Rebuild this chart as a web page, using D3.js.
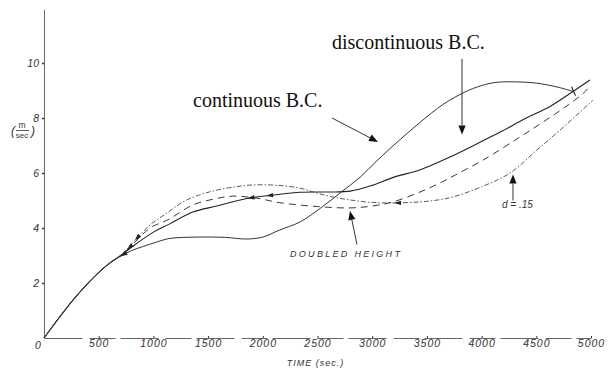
<!DOCTYPE html>
<html>
<head>
<meta charset="utf-8">
<script src="https://cdn.jsdelivr.net/npm/d3@7"></script>
<style>
  body { margin: 0; background: #fff; }
  svg { display: block; }
  .tick text { font-family: "Liberation Sans", Arial, sans-serif; font-style: italic; fill: #333; }
</style>
</head>
<body>
<svg id="chart" width="613" height="370"></svg>
<script>
// Axis ticks
const xTicks = [0, 500, 1000, 1500, 2000, 2500, 3000, 3500, 4000, 4500, 5000];
const yTicks = [2, 4, 6, 8, 10];

// Velocity (m/sec) against time (sec) for each run
const contT = [0, 265, 494, 603, 695, 800, 900, 1030, 1150, 1400, 1650, 1850, 2000, 2150, 2340, 2540, 2705, 2890, 3044, 3250, 3440, 3650, 3850, 4000, 4140, 4350, 4500, 4700, 4840];
const contV = [0, 1.38, 2.36, 2.73, 2.96, 3.18, 3.32, 3.49, 3.62, 3.67, 3.66, 3.6, 3.67, 3.92, 4.22, 4.76, 5.27, 5.85, 6.45, 7.2, 7.85, 8.5, 8.95, 9.18, 9.3, 9.31, 9.27, 9.12, 8.96];

const discT = [0, 265, 494, 603, 695, 800, 1000, 1150, 1360, 1580, 1880, 2100, 2340, 2600, 2800, 3000, 3200, 3440, 3710, 3950, 4170, 4400, 4625, 4810, 4990];
const discV = [0, 1.38, 2.36, 2.73, 2.98, 3.3, 3.85, 4.15, 4.58, 4.8, 5.09, 5.2, 5.3, 5.31, 5.34, 5.55, 5.85, 6.12, 6.58, 7.05, 7.49, 7.98, 8.42, 8.9, 9.38];

const dblT = [0, 265, 494, 603, 695, 800, 969, 1133, 1362, 1550, 1730, 1950, 2157, 2500, 2797, 3000, 3190, 3437, 3620, 3760, 4013, 4351, 4625, 4800, 4930, 5000];
const dblV = [0, 1.38, 2.36, 2.73, 2.98, 3.36, 4.0, 4.3, 4.84, 5.05, 5.16, 5.08, 4.92, 4.78, 4.73, 4.8, 4.95, 5.31, 5.64, 5.93, 6.47, 7.31, 8.02, 8.5, 8.9, 9.2];

const alphaT = [0, 265, 494, 603, 695, 800, 969, 1133, 1270, 1420, 1581, 1750, 1883, 2100, 2340, 2495, 2650, 2797, 3000, 3190, 3437, 3600, 3740, 4000, 4260, 4500, 4717, 5018];
const alphaV = [0, 1.38, 2.36, 2.73, 2.99, 3.42, 4.11, 4.57, 4.95, 5.2, 5.38, 5.5, 5.56, 5.56, 5.45, 5.27, 5.12, 5.02, 4.93, 4.91, 4.95, 5.02, 5.13, 5.5, 6.0, 6.82, 7.56, 8.65];

const svg = d3.select("#chart");
const x = d3.scaleLinear().domain([0, 5000]).range([44, 591]);
const y = d3.scaleLinear().domain([0, 11.95]).range([338, 9.4]);

// ---- axes ----
const yAxis = svg.append("g")
  .attr("transform", `translate(${x(0)},0)`)
  .call(d3.axisLeft(y).tickValues(yTicks).tickSize(2).tickSizeOuter(0).tickPadding(3).tickFormat(d3.format("d")));
yAxis.select(".domain").attr("stroke", "#666").attr("stroke-width", 1);
yAxis.selectAll(".tick line").attr("stroke", "#333").attr("stroke-width", 1.4);
yAxis.selectAll(".tick text").attr("font-size", 10.5);

const xAxis = svg.append("g")
  .attr("transform", `translate(0,${y(0)})`)
  .call(d3.axisBottom(x).tickValues(xTicks).tickSizeInner(-2).tickSizeOuter(0).tickPadding(2).tickFormat(d3.format("d")));
xAxis.select(".domain").attr("stroke", "#666").attr("stroke-width", 1).attr("stroke-dasharray", "38,7,26,5");
xAxis.selectAll(".tick line").attr("stroke", "#333");
xAxis.selectAll(".tick text").attr("font-size", 10.5).attr("letter-spacing", 1);
xAxis.selectAll(".tick").filter(d => d === 0).select("text").attr("dx", -6).attr("dy", "0.9em");
xAxis.selectAll(".tick").filter(d => d === 0).select("line").remove();

// axis titles
svg.append("text")
  .attr("x", (x(0) + x(5000)) / 2 - 2).attr("y", 366)
  .attr("text-anchor", "middle")
  .attr("font-family", "Liberation Sans, Arial, sans-serif")
  .attr("font-style", "italic").attr("font-size", 9).attr("letter-spacing", 1)
  .attr("fill", "#333")
  .text("TIME (sec.)");

const unit = svg.append("g").attr("font-family", "Liberation Sans, Arial, sans-serif").attr("fill", "#333");
unit.append("text").attr("x", 11).attr("y", 135).attr("font-size", 12).attr("font-style", "italic").text("(");
unit.append("text").attr("x", 22).attr("y", 128).attr("font-size", 8.5).attr("text-anchor", "middle").text("m");
unit.append("line").attr("x1", 16).attr("x2", 29).attr("y1", 130.5).attr("y2", 130.5).attr("stroke", "#333").attr("stroke-width", 0.8);
unit.append("text").attr("x", 22).attr("y", 138).attr("font-size", 8).attr("text-anchor", "middle").text("sec");
unit.append("text").attr("x", 31).attr("y", 135).attr("font-size", 12).attr("font-style", "italic").text(")");

// ---- curves ----
const line = d3.line().x(d => x(d[0])).y(d => y(d[1])).curve(d3.curveCatmullRom.alpha(0.5));
const zip = (ts, vs) => ts.map((t, i) => [t, vs[i]]);

const series = [
  { name: "continuous", t: contT, v: contV, color: "#333", width: 1, dash: null },
  { name: "discontinuous", t: discT, v: discV, color: "#222", width: 1.1, dash: null },
  { name: "doubled", t: dblT, v: dblV, color: "#3a3a3a", width: 1, dash: "7,5" },
  { name: "alpha", t: alphaT, v: alphaV, color: "#4a4a4a", width: 0.9, dash: "5,2,1.5,2" }
];

const paths = {};
series.forEach(s => {
  paths[s.name] = svg.append("path")
    .datum(zip(s.t, s.v))
    .attr("fill", "none")
    .attr("stroke", s.color)
    .attr("stroke-width", s.width)
    .attr("stroke-dasharray", s.dash)
    .attr("d", line)
    .node();
});

// small direction arrowheads drawn on the curves, pointing back toward earlier time
function pointAtX(pathNode, px) {
  let lo = 0, hi = pathNode.getTotalLength();
  for (let k = 0; k < 40; k++) {
    const mid = (lo + hi) / 2;
    if (pathNode.getPointAtLength(mid).x < px) lo = mid; else hi = mid;
  }
  return lo;
}
function curveHead(name, t) {
  const node = paths[name];
  const L = pointAtX(node, x(t));
  const p = node.getPointAtLength(L);
  const q = node.getPointAtLength(L + 6);
  const ang = Math.atan2(p.y - q.y, p.x - q.x);
  const len = 7, half = 2.2;
  const tip = [p.x, p.y];
  const b1 = [p.x - len * Math.cos(ang) + half * Math.sin(ang), p.y - len * Math.sin(ang) - half * Math.cos(ang)];
  const b2 = [p.x - len * Math.cos(ang) - half * Math.sin(ang), p.y - len * Math.sin(ang) + half * Math.cos(ang)];
  svg.append("path").attr("d", `M${tip}L${b1}L${b2}Z`).attr("fill", "#222");
}
curveHead("continuous", 700);
curveHead("doubled", 760);
curveHead("alpha", 830);
curveHead("discontinuous", 1860);
curveHead("discontinuous", 2030);
curveHead("alpha", 3200);

// end tick on the continuous curve
(function () {
  const node = paths.continuous;
  const p = node.getPointAtLength(node.getTotalLength());
  svg.append("line").attr("x1", p.x - 2).attr("y1", p.y - 5).attr("x2", p.x + 2).attr("y2", p.y + 4)
    .attr("stroke", "#222").attr("stroke-width", 1.2);
})();

// ---- annotations ----
function arrow(t0, v0, t1, v1) {
  const x0 = x(t0), y0 = y(v0), x1 = x(t1), y1 = y(v1);
  const ang = Math.atan2(y1 - y0, x1 - x0);
  const len = 9, half = 3.6;
  const bx = x1 - len * Math.cos(ang), by = y1 - len * Math.sin(ang);
  svg.append("line").attr("x1", x0).attr("y1", y0).attr("x2", bx).attr("y2", by)
    .attr("stroke", "#333").attr("stroke-width", 1);
  svg.append("path")
    .attr("d", `M${x1},${y1}L${bx + half * Math.sin(ang)},${by - half * Math.cos(ang)}L${bx - half * Math.sin(ang)},${by + half * Math.cos(ang)}Z`)
    .attr("fill", "#111");
}

const serif = "Liberation Serif, Times New Roman, serif";
svg.append("text").attr("x", 332).attr("y", 49)
  .attr("font-family", serif).attr("font-size", 20).attr("fill", "#111")
  .text("discontinuous B.C.");
svg.append("text").attr("x", 193).attr("y", 107)
  .attr("font-family", serif).attr("font-size", 20).attr("fill", "#111")
  .text("continuous B.C.");

arrow(2633, 8.0, 3053, 7.13);
arrow(3821, 10.15, 3821, 7.4);
arrow(2861, 3.4, 2797, 4.62);
arrow(4287, 5.0, 4287, 5.95);

svg.append("text").attr("x", 290).attr("y", 257)
  .attr("font-family", "Liberation Sans, Arial, sans-serif").attr("font-style", "italic")
  .attr("font-size", 9).attr("letter-spacing", 2.3).attr("fill", "#333")
  .text("DOUBLED HEIGHT");
svg.append("text").attr("x", 502).attr("y", 208)
  .attr("font-family", "Liberation Sans, Arial, sans-serif").attr("font-style", "italic")
  .attr("font-size", 10).attr("fill", "#333")
  .text("d = .15");
</script>
</body>
</html>
